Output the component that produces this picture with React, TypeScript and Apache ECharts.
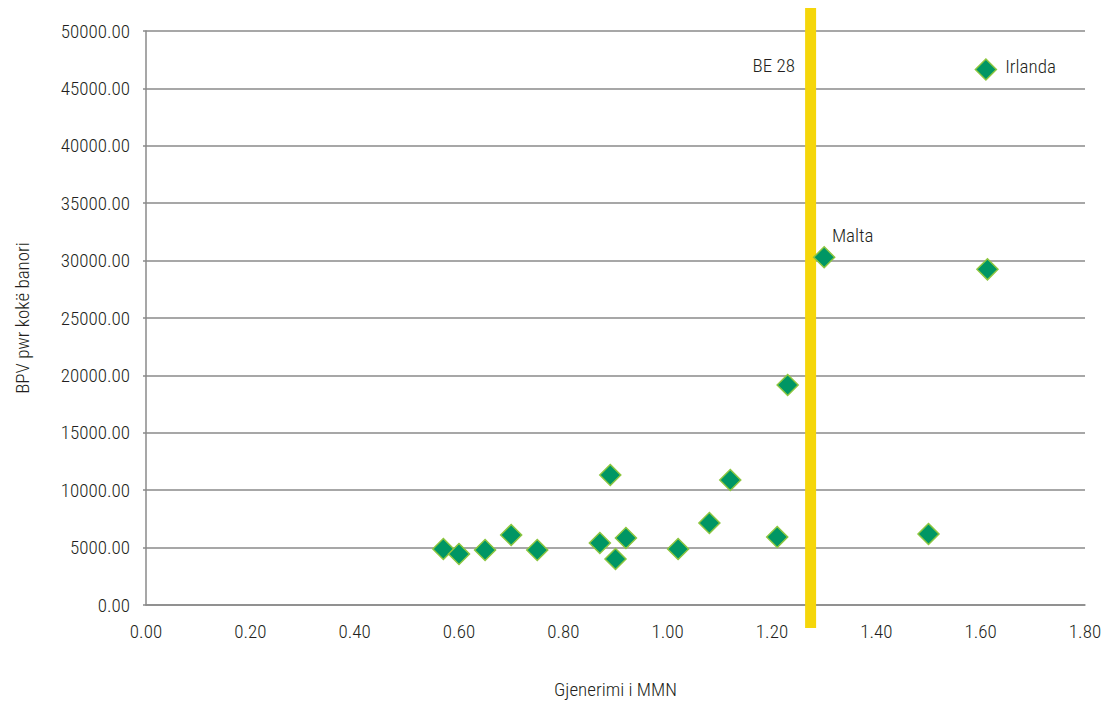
import React, { useEffect, useRef } from "react";
import * as echarts from "echarts";

const xTicks = { min: 0, max: 1.8, interval: 0.2 };
const yTicks = { min: 0, max: 50000, interval: 5000 };

const genX: number[] = [0.57, 0.60, 0.65, 0.70, 0.75, 0.87, 0.89, 0.90, 0.92, 1.02, 1.08, 1.12, 1.21, 1.23, 1.30, 1.50, 1.61, 1.613];
const gdpY: number[] = [4880, 4440, 4790, 6100, 4790, 5400, 11320, 4010, 5840, 4880, 7140, 10890, 5920, 19160, 30290, 6190, 46650, 29240];
const pointLabels: string[] = ["", "", "", "", "", "", "", "", "", "", "", "", "", "", "Malta", "", "Irlanda", ""];

const eu28X = 1.274;
const eu28Label = "BE 28";

const xName = "Gjenerimi i MMN";
const yName = "BPV pwr kokë banori";

const FONT = "'Roboto Condensed', 'DejaVu Sans Condensed', sans-serif";
const FS = 19;
const FW = 300;
const TXT = "#231f20";

export default function App() {
  const ref = useRef<HTMLDivElement>(null);
  useEffect(() => {
    if (!ref.current) return;
    const chart = echarts.init(ref.current, undefined, { renderer: "svg" });
    const scatterData = genX.map((x, i) => {
      const item: any = { value: [x, gdpY[i]] };
      if (pointLabels[i] === "Malta") {
        item.label = { show: true, formatter: pointLabels[i], position: [19, -11], align: "left", verticalAlign: "middle" };
      } else if (pointLabels[i] === "Irlanda") {
        item.label = { show: true, formatter: pointLabels[i], position: "right", distance: 8, offset: [0, -3] };
      }
      return item;
    });
    chart.setOption({
      animation: false,
      textStyle: { fontFamily: FONT, fontWeight: FW },
      grid: [
        { left: 146, right: 20, top: 31, bottom: 100, outerBoundsMode: "none" },
        { left: 146, right: 20, top: 8, bottom: 77, outerBoundsMode: "none" },
      ],
      xAxis: [
        {
          gridIndex: 0,
          type: "value",
          min: xTicks.min,
          max: xTicks.max,
          interval: xTicks.interval,
          name: xName,
          nameLocation: "middle",
          nameGap: 75,
          nameTextStyle: { fontSize: FS, color: TXT, fontFamily: FONT, fontWeight: FW },
          axisLine: { show: true, lineStyle: { color: "#8a8a8a", width: 1.5 } },
          axisTick: { show: false },
          splitLine: { show: false },
          axisLabel: { fontSize: FS, color: TXT, margin: 17, fontFamily: FONT, fontWeight: FW, formatter: (v: number) => v.toFixed(2) },
        },
        { gridIndex: 1, type: "value", min: xTicks.min, max: xTicks.max, show: false },
      ],
      yAxis: [
        {
          gridIndex: 0,
          type: "value",
          min: yTicks.min,
          max: yTicks.max,
          interval: yTicks.interval,
          name: yName,
          nameLocation: "middle",
          nameRotate: 90,
          nameGap: 114,
          nameTextStyle: { fontSize: FS, color: TXT, fontFamily: FONT, fontWeight: FW },
          axisLine: { show: true, lineStyle: { color: "#8a8a8a", width: 1.5 } },
          axisTick: { show: true, length: 3, lineStyle: { color: "#8a8a8a", width: 1.5 } },
          splitLine: { show: true, lineStyle: { color: "#8a8a8a", width: 1.5 } },
          axisLabel: { fontSize: FS, color: TXT, margin: 16, fontFamily: FONT, fontWeight: FW, formatter: (v: number) => v.toFixed(2) },
        },
        { gridIndex: 1, type: "value", min: 0, max: 1, show: false },
      ],
      series: [
        {
          type: "line",
          xAxisIndex: 1,
          yAxisIndex: 1,
          data: [[eu28X, 0], [eu28X, 1]],
          symbol: "none",
          lineStyle: { color: "#f5d60a", width: 11 },
          z: 1,
          silent: true,
        },
        {
          type: "scatter",
          xAxisIndex: 0,
          yAxisIndex: 0,
          symbol: "diamond",
          symbolSize: 21,
          data: scatterData,
          itemStyle: { color: "#009664", borderColor: "#8dc63f", borderWidth: 1.5, opacity: 1 },
          label: { show: false, fontSize: FS, color: TXT, fontFamily: FONT, fontWeight: FW },
          z: 5,
        },
      ],
      graphic: [
        {
          type: "text",
          right: 1105 - 795,
          top: 56,
          style: { text: eu28Label, fontSize: FS, fill: TXT, fontFamily: FONT, fontWeight: FW, textAlign: "right" },
        },
      ],
    });
    return () => chart.dispose();
  }, []);
  return <div ref={ref} style={{ position: "absolute", left: 0, top: 0, width: 1105, height: 705 }} />;
}
